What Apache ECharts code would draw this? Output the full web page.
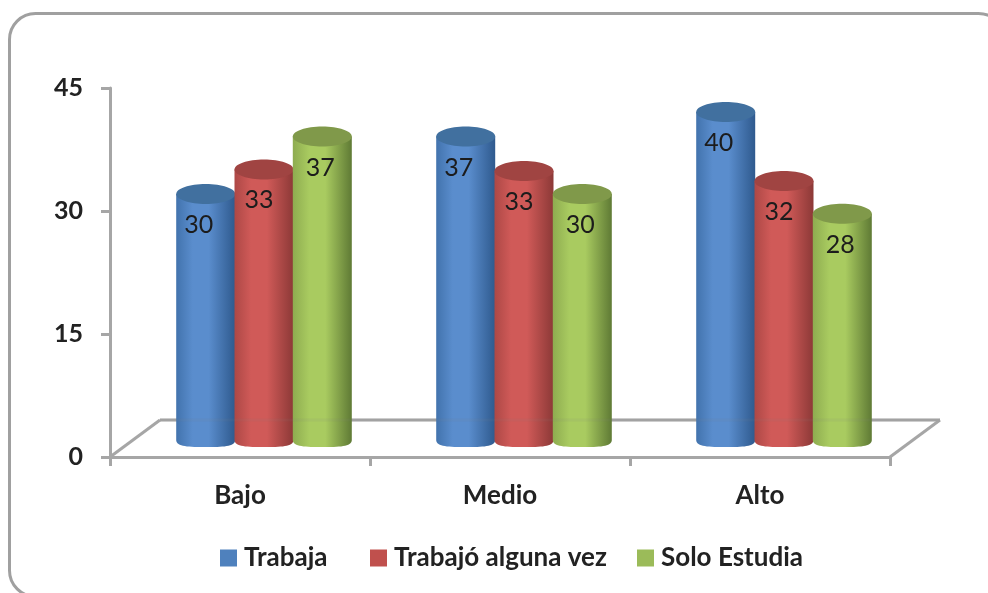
<!DOCTYPE html>
<html><head><meta charset="utf-8">
<style>html,body{margin:0;padding:0;background:#fff}#c{width:988px;height:593px}</style>
<script src="https://cdn.jsdelivr.net/npm/echarts@6/dist/echarts.min.js"></script>
</head><body><div id="c"></div>
<script>
var categories = ['Bajo', 'Medio', 'Alto'];
var seriesNames = ['Trabaja', 'Trabajó alguna vez', 'Solo Estudia'];
var trabaja = [30, 37, 40];
var trabajoAlgunaVez = [33, 32.8, 31.6];
var soloEstudia = [37, 30, 27.6];
var yTicks = [0, 15, 30, 45];

var FONT = 'Lato, "Open Sans", sans-serif';
var palette = [
  {edgeL:'#4273ad', mid:'#5a8dcd', edgeR:'#2f5a8e', top:'#41709f', key:'#4f81bd', labelDx:-7},
  {edgeL:'#ad4846', mid:'#d05a58', edgeR:'#8c3937', top:'#a04442', key:'#c0504d', labelDx:-5},
  {edgeL:'#8eac50', mid:'#a9cb60', edgeR:'#5f7a35', top:'#80994a', key:'#9bbb59', labelDx:-2}
];
var legendLefts = [220, 370, 637];
var DEPTH_X = 24, BASE_LIFT = 17, RX = 29.5, RY_TOP = 10, RY_BOT = 7;

function cylinder(seriesIndex) {
  var p = palette[seriesIndex];
  return function (params, api) {
    var cat = api.value(0), val = api.value(1);
    var band = api.size([1, 0])[0];
    var step = band / 4.46;
    var cx = api.coord([cat, 0])[0] + DEPTH_X + (seriesIndex - 1) * step;
    var baseY = api.coord([cat, 0])[1] - BASE_LIFT;
    var topY = api.coord([cat, val])[1] - BASE_LIFT;
    var grad = new echarts.graphic.LinearGradient(0, 0, 1, 0, [
      {offset:0, color:p.edgeL},{offset:0.28, color:p.mid},{offset:0.55, color:p.mid},
      {offset:1, color:p.edgeR}
    ]);
    var k = 0.5523;
    var path = 'M' + (cx-RX) + ' ' + topY + 'L' + (cx-RX) + ' ' + baseY +
      'C' + (cx-RX) + ' ' + (baseY+RY_BOT*k*1.8) + ' ' + (cx-RX*k) + ' ' + (baseY+RY_BOT) + ' ' + cx + ' ' + (baseY+RY_BOT) +
      'C' + (cx+RX*k) + ' ' + (baseY+RY_BOT) + ' ' + (cx+RX) + ' ' + (baseY+RY_BOT*k*1.8) + ' ' + (cx+RX) + ' ' + baseY +
      'L' + (cx+RX) + ' ' + topY + 'Z';
    return {
      type:'group',
      children:[
        {type:'path', shape:{pathData:path}, style:{fill:grad}},
        {type:'ellipse', shape:{cx:cx, cy:topY, rx:RX, ry:RY_TOP}, style:{fill:p.top}},
        {type:'text', x:cx + p.labelDx, y:topY+31, style:{text:String(Math.round(val)), fill:'#1c1c1c',
          font:'25px ' + FONT, align:'center', verticalAlign:'middle'}}
      ]
    };
  };
}

var FLOOR_DX = 50, FLOOR_DY = 37;
function floorItem(params, api) {
  var cs = params.coordSys, c = '#a6a6a6';
  var x0 = cs.x, x1 = cs.x + cs.width, y0 = cs.y + cs.height, dx = FLOOR_DX, dy = FLOOR_DY;
  function ln(a,b,c2,d){return {type:'line',shape:{x1:a,y1:b,x2:c2,y2:d},style:{stroke:c,lineWidth:3}};}
  return {type:'group',children:[ln(x0,y0,x0+dx,y0-dy),ln(x0+dx,y0-dy,x1+dx,y0-dy),ln(x1+dx,y0-dy,x1,y0)]};
}
function floorThrough(params, api) {
  var cs = params.coordSys, y = cs.y + cs.height - FLOOR_DY;
  return {type:'line',shape:{x1:cs.x+FLOOR_DX,y1:y,x2:cs.x+cs.width+FLOOR_DX,y2:y},style:{stroke:'#808080',lineWidth:3,opacity:0.1}};
}

function toData(a){return a.map(function(v,i){return [i,v];});}
var values = [trabaja, trabajoAlgunaVez, soloEstudia];

var series = [{type:'custom', name:'floor', coordinateSystem:'cartesian2d', renderItem:floorItem, data:[[0,0]], silent:true, z:1, clip:false}];
values.forEach(function(v,i){
  series.push({type:'custom', name:seriesNames[i], coordinateSystem:'cartesian2d', renderItem:cylinder(i),
    data:toData(v), encode:{x:0,y:1}, itemStyle:{color:palette[i].key}, z:2+i, clip:false});
});
series.push({type:'custom', name:'floorThrough', coordinateSystem:'cartesian2d', renderItem:floorThrough, data:[[0,0]], silent:true, z:9, clip:false});

var axisLine = {show:true, onZero:false, lineStyle:{color:'#a6a6a6', width:3}};
var axisTick = {show:true, length:9, lineStyle:{color:'#a6a6a6', width:3}};
var labelStyle = {color:'#222222', fontFamily:'Lato', fontSize:25, fontWeight:'bold'};

var chart = echarts.init(document.getElementById('c'));
chart.setOption({
  backgroundColor:'#fff',
  animation:false,
  graphic:[{type:'rect', z:0, shape:{x:9.5,y:13.5,width:995,height:583,r:26}, style:{fill:'#fff',stroke:'#a0a0a0',lineWidth:3}}],
  grid:{left:110,right:98,top:88,bottom:136,containLabel:false},
  xAxis:{type:'category', data:categories, axisLine:axisLine, axisTick:Object.assign({alignWithLabel:false},axisTick),
    axisLabel:Object.assign({margin:26}, labelStyle, {fontSize:26}), splitLine:{show:false}},
  yAxis:{type:'value', min:yTicks[0], max:yTicks[yTicks.length-1], interval:yTicks[1]-yTicks[0],
    axisLine:axisLine, axisTick:axisTick, axisLabel:Object.assign({margin:27, padding:[4,0,0,0]}, labelStyle), splitLine:{show:false}},
  legend:seriesNames.map(function(n,i){
    return {data:[{name:n,icon:'rect'}], left:legendLefts[i], top:545, itemWidth:17, itemHeight:17, padding:0,
      textStyle:Object.assign({}, labelStyle, {fontSize:26, padding:[0,0,0,2]})};
  }),
  series:series
});
</script></body></html>
